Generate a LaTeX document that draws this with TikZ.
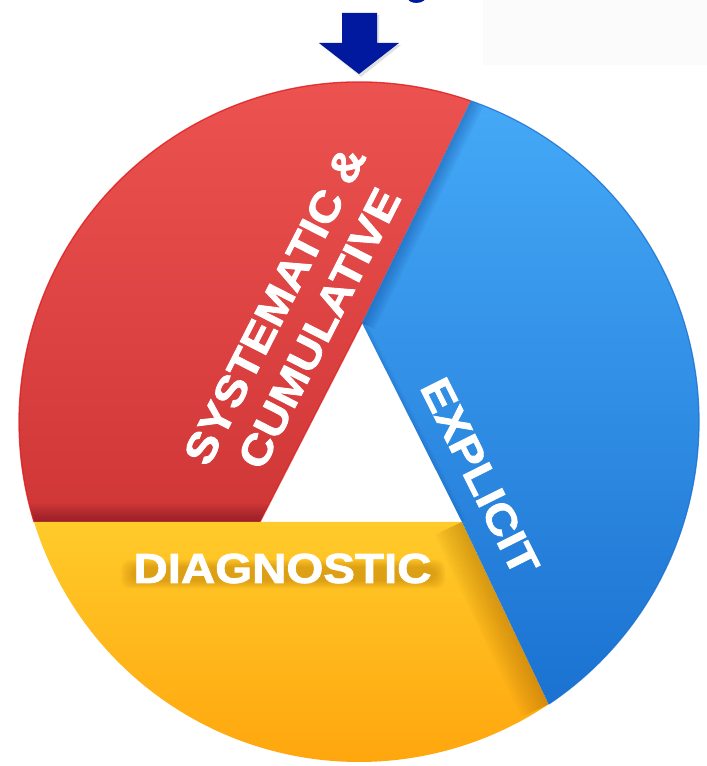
\documentclass[tikz,border=0pt]{standalone}
\usepackage{fontspec}
\newfontfamily\heavy{Liberation Sans Bold}[FakeBold=1.8]
\usetikzlibrary{calc}
\definecolor{redtop}{HTML}{EF5552}
\definecolor{redbot}{HTML}{CF3636}
\definecolor{rededge}{HTML}{DC1C1C}
\definecolor{reddark}{HTML}{6E1020}
\definecolor{bluetop}{HTML}{45A9F7}
\definecolor{bluebot}{HTML}{1B72D1}
\definecolor{blueedge}{HTML}{1A6FD0}
\definecolor{bluedark}{HTML}{0B3F8F}
\definecolor{yeltop}{HTML}{FFCB2A}
\definecolor{yelbot}{HTML}{FFA40C}
\definecolor{yeldark}{HTML}{9A5A00}
\definecolor{navy}{HTML}{01199E}
\definecolor{paleback}{HTML}{FBFBFB}
\begin{document}
\begin{tikzpicture}[x=1pt,y=1pt,
  lbl/.style={text=white, font=\heavy\fontsize{42}{50}\selectfont, inner sep=0pt, align=center},
]
\useasboundingbox (0,0) rectangle (707,766);
\clip (0,0) rectangle (707,766);
\fill[white] (0,0) rectangle (707,766);
\fill[paleback] (483,701) rectangle (707,766);

\coordinate (C) at (359,344);
\coordinate (T) at (362,443);
\coordinate (L) at (260,244);
\coordinate (R) at (462,244);
\coordinate (P1) at ($(C)+(70.8:340)$);
\coordinate (P2) at ($(C)+(197.1:340)$);
\coordinate (P3) at ($(C)+(303.9:340)$);

% ---- red segment
\shade[top color=redtop,bottom color=redbot]
  (P1) arc[start angle=70.8,end angle=197.1,radius=340] -- (L) -- (T) -- cycle;
\begin{scope}
  \clip (P1) arc[start angle=70.8,end angle=197.1,radius=340] -- (L) -- (T) -- cycle;
  \foreach \w in {2,4,...,18}
    \fill[reddark, opacity=0.07] (0,244) rectangle (400,244+\w);
\end{scope}
\draw[rededge, line width=1.3, opacity=0.8] (P1) arc[start angle=70.8,end angle=197.1,radius=340];
\draw[rededge, line width=1.3, opacity=0.7] (L) -- (T);

% ---- yellow segment
\shade[top color=yeltop,bottom color=yelbot]
  (P2) arc[start angle=197.1,end angle=303.9,radius=340] -- (R) -- (L) -- cycle;
\begin{scope}
  \clip (P2) arc[start angle=197.1,end angle=303.9,radius=340] -- (R) -- (L) -- cycle;
  \foreach \w in {3,6,...,30}
    \fill[yeldark, opacity=0.045] (R) -- (P3) -- ($(P3)!\w pt!90:(R)$) -- ($(R)!\w pt!-90:(P3)$) -- cycle;
\end{scope}

% ---- blue segment
\shade[top color=bluetop,bottom color=bluebot]
  (P3) arc[start angle=303.9,end angle=430.8,radius=340] -- (T) -- (R) -- cycle;
\begin{scope}
  \clip (P3) arc[start angle=303.9,end angle=430.8,radius=340] -- (T) -- (R) -- cycle;
  \foreach \w in {2,4,...,14}
    \fill[bluedark, opacity=0.06] (T) -- (P1) -- ($(P1)!\w pt!90:(T)$) -- ($(T)!\w pt!-90:(P1)$) -- cycle;
  \foreach \w in {1.5,3,4.5}
    \fill[bluedark, opacity=0.06] (T) -- (R) -- ($(R)!\w pt!-90:(T)$) -- ($(T)!\w pt!90:(R)$) -- cycle;
\end{scope}
\draw[blueedge, line width=1.2, opacity=0.8] (P3) arc[start angle=303.9,end angle=430.8,radius=340];

% ---- soft shadow behind DIAGNOSTIC
\foreach \i in {0,...,7}
  \fill[yeldark, opacity=0.045, rounded corners=9]
    (132-\i*1.6,185-\i*1.1) rectangle (436+\i*1.3,199+\i*1.0);

% ---- labels
\node[lbl, rotate=63, xscale=1.13] (sys) at (297,449) {SYSTEMATIC \&\\CUMULATIVE};
\node[lbl, rotate=-63.5, xscale=1.13] (exp) at (480,289.5) {EXPLICIT};
\node[lbl, xscale=1.13, anchor=base] (diag) at (282.5,183) {DIAGNOSTIC};

% ---- top arrow with shadow
\fill[black, opacity=0.12] (344,751) -- (379,751) -- (379,721) -- (401,721) -- (361,689) -- (321,721) -- (344,721) -- cycle;
\fill[navy] (342,753) -- (377,753) -- (377,723) -- (399,723) -- (359,692) -- (319,723) -- (342,723) -- cycle;

% ---- cut-off title fragment
\node[text=navy, font=\heavy\fontsize{40}{40}\selectfont, anchor=base, inner sep=0pt] (gfrag) at (417,772) {g};
\end{tikzpicture}
\end{document}
